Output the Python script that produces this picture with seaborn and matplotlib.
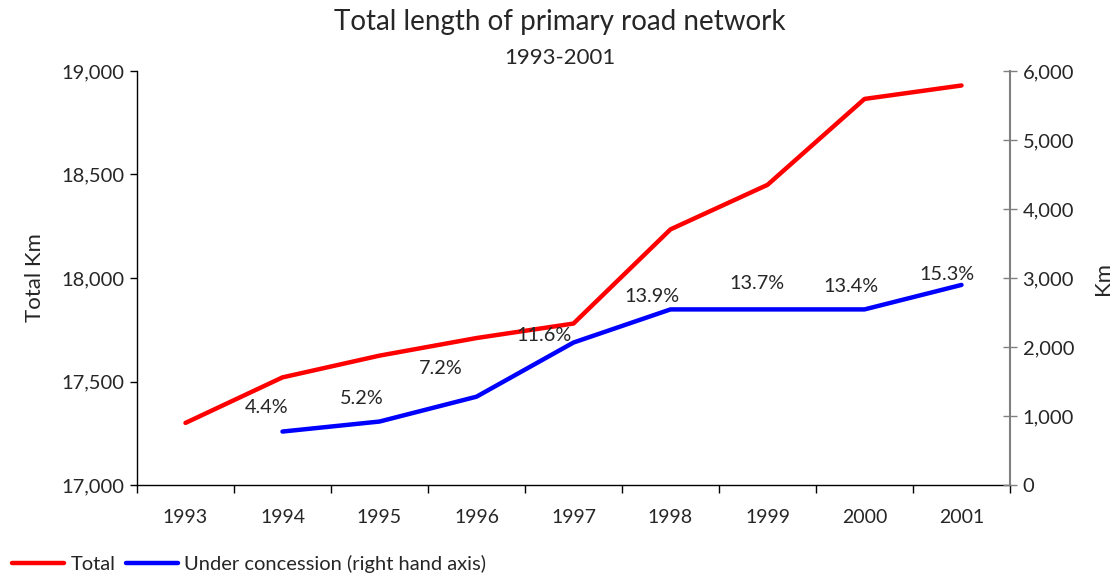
import numpy as np
import pandas as pd
import matplotlib
matplotlib.use('Agg')
import matplotlib.pyplot as plt
import seaborn as sns
from matplotlib.ticker import FuncFormatter, FixedLocator

# data
years = ['1993', '1994', '1995', '1996', '1997', '1998', '1999', '2000', '2001']
total_km = [17300, 17520, 17625, 17710, 17780, 18235, 18450, 18865, 18930]
concession_km = [np.nan, 775, 920, 1280, 2065, 2545, 2545, 2545, 2900]
share_labels = ['', '4.4%', '5.2%', '7.2%', '11.6%', '13.9%', '13.7%', '13.4%', '15.3%']

# label nudges in pixels (x, y) relative to the blue point
label_dx = [0, -16, -18, -36, -30, -19, -11, -14, -15]
label_dy = [0, 24, 23, 28, 7, 13, 26, 23, 10]

sns.set_style('white')
plt.rcParams['font.family'] = ['Lato', 'DejaVu Sans']

df = pd.DataFrame({'pos': np.arange(len(years)), 'year': years,
                   'total': total_km, 'concession': concession_km})

fig = plt.figure(figsize=(11.2, 5.79), dpi=100)
ax = fig.add_axes([0.1223, 0.1623, 0.9018 - 0.1223, 0.8774 - 0.1623])
ax2 = ax.twinx()

sns.lineplot(data=df, x='pos', y='total', ax=ax, color='#ff0000', lw=3.2, label='Total', legend=False)
sns.lineplot(data=df.dropna(), x='pos', y='concession', ax=ax2, color='#0000ff', lw=3.2,
             label='Under concession (right hand axis)', legend=False)

ax.set_xlim(-0.5, len(years) - 0.5)
ax.set_ylim(17000, 19000)
ax.set_yticks([17000, 17500, 18000, 18500, 19000])
ax2.set_ylim(0, 6000)
ax2.set_yticks(range(0, 6001, 1000))
fmt = FuncFormatter(lambda v, p: f'{v:,.0f}')
ax.yaxis.set_major_formatter(fmt)
ax2.yaxis.set_major_formatter(fmt)

ax.set_xticks(df['pos'])
ax.set_xticklabels(years, fontsize=14)
ax.tick_params(axis='x', which='major', length=0, pad=17)
ax.xaxis.set_minor_locator(FixedLocator(np.arange(-0.5, len(years), 1.0)))
ax.tick_params(axis='x', which='minor', length=6, width=1, color='black', direction='out', bottom=True)
ax.tick_params(axis='y', length=5, width=1, color='black', direction='out', left=True, labelsize=14.5, pad=4)
ax2.tick_params(axis='y', length=10, width=1, color='#808080', direction='inout', right=True, labelsize=14.5, pad=4)

for s in ['top', 'right']:
    ax.spines[s].set_visible(False)
for s in ['top', 'left', 'bottom']:
    ax2.spines[s].set_visible(False)
ax.spines['left'].set_color('black')
ax.spines['bottom'].set_color('black')
ax.spines['left'].set_linewidth(1)
ax.spines['bottom'].set_linewidth(1)
ax2.spines['right'].set_color('#808080')
ax2.spines['right'].set_linewidth(1.5)

ax.set_xlabel('')
ax.set_ylabel('Total Km', fontsize=16, labelpad=12)
ax2.set_ylabel('Km', fontsize=16, labelpad=14)

for i, lab in enumerate(share_labels):
    if lab == '':
        continue
    ax2.annotate(lab, (df['pos'][i], concession_km[i]), xytext=(label_dx[i], label_dy[i]),
                 textcoords='offset pixels', ha='center', va='center', fontsize=14.3)

fig.text(0.5, 0.962, 'Total length of primary road network', ha='center', va='center', fontsize=20)
fig.text(0.5, 0.9, '1993-2001', ha='center', va='center', fontsize=16)

h1, l1 = ax.get_legend_handles_labels()
h2, l2 = ax2.get_legend_handles_labels()
fig.legend(h1 + h2, l1 + l2, loc='lower left', bbox_to_anchor=(0.0, -0.01), ncol=2, frameon=False,
           fontsize=14.5, handlelength=2.6, handletextpad=0.3, columnspacing=0.5, borderaxespad=0.2)

fig.savefig('out.png', dpi=100)
